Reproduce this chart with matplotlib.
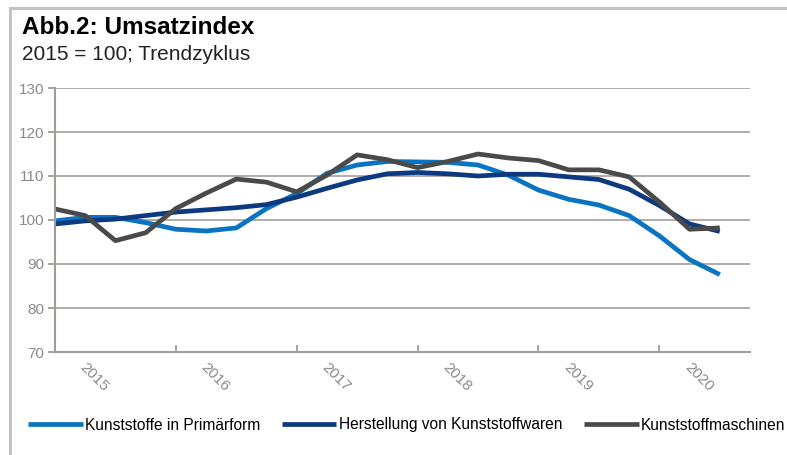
import numpy as np
import matplotlib.pyplot as plt

plt.rcParams['font.family'] = ['Liberation Sans', 'DejaVu Sans']

# Quartalswerte 2015 Q1 bis 2020 Q3 (Trendzyklus, 2015 = 100)
jahre = ['2015', '2016', '2017', '2018', '2019', '2020']
primaerform = [99.8, 100.6, 100.6, 99.4, 97.9, 97.5, 98.2, 102.6, 106.0, 110.6,
               112.5, 113.3, 113.2, 113.1, 112.5, 110.2, 106.8, 104.7, 103.4,
               101.0, 96.4, 91.0, 87.6]
kunststoffwaren = [99.1, 99.8, 100.2, 101.0, 101.8, 102.3, 102.8, 103.5, 105.2,
                   107.2, 109.1, 110.5, 110.8, 110.5, 110.0, 110.4, 110.4, 109.8,
                   109.2, 107.0, 103.3, 99.1, 97.4]
maschinen = [102.5, 101.0, 95.3, 97.1, 102.6, 106.1, 109.3, 108.6, 106.4, 110.2,
             114.8, 113.7, 111.9, 113.3, 115.0, 114.1, 113.5, 111.4, 111.4,
             109.8, 104.1, 97.9, 98.2]
namen = ['Kunststoffe in Primärform', 'Herstellung von Kunststoffwaren',
         'Kunststoffmaschinen']
farben = ['#0a73c2', '#0b3a80', '#4a4a4a']

x = np.arange(len(maschinen))

fig = plt.figure(figsize=(7.87, 4.55), dpi=100)
ax = fig.add_axes([55/787, 1-352/455, 695/787, 264/455])

for werte, name, farbe in zip([primaerform, kunststoffwaren, maschinen], namen, farben):
    ax.plot(x, werte, color=farbe, lw=3.4, label=name, solid_capstyle='butt')

# Achsen
ax.set_xlim(0, 23)
ax.set_ylim(70, 130)
ax.set_yticks(np.arange(70, 131, 10))
ax.yaxis.grid(True, color='#a8a6a3', lw=1.3)
ax.set_axisbelow(True)
for s in ['top', 'right']:
    ax.spines[s].set_visible(False)
for s in ['left', 'bottom']:
    ax.spines[s].set_color('#a09d99')
    ax.spines[s].set_linewidth(1.5)
ax.tick_params(axis='y', colors='#a09d99', labelcolor='#8a8a8a', labelsize=11,
               length=5, width=1.3, pad=3)

# Jahresmarken und schräge Beschriftung
ax.set_xticks(np.arange(0, 23, 4))
ax.tick_params(axis='x', which='major', direction='in', length=5, width=1.3,
               colors='#a09d99', labelbottom=False)
ax.set_xticks(np.arange(len(jahre)) * 4 + 1.3, minor=True)
ax.set_xticklabels(jahre, minor=True, rotation=-45, ha='center', va='top',
                   color='#8a8a8a', fontsize=11)
ax.tick_params(axis='x', which='minor', length=0, pad=6)

# Titel
fig.text(22/787, 1-28/455, 'Abb.2: Umsatzindex', fontsize=17.5, fontweight='bold',
         va='center', ha='left')
fig.text(22/787, 1-55/455, '2015 = 100; Trendzyklus', fontsize=15,
         va='center', ha='left', color='#222222')

# Legende
fig.legend(loc='center left', bbox_to_anchor=(22/787, 1-425/455), ncol=3,
           frameon=False, fontsize=11.2, handlelength=3.5, handletextpad=0.15,
           columnspacing=1.4, borderaxespad=0)

# Rahmen oben/links
fig.add_artist(plt.Line2D([10/787, 1], [1-8/455, 1-8/455], color='#c4c4c4', lw=2.2,
                          transform=fig.transFigure))
fig.add_artist(plt.Line2D([10/787, 10/787], [0, 1-8/455], color='#c4c4c4', lw=2.2,
                          transform=fig.transFigure))

fig.savefig('out.png', dpi=100)
